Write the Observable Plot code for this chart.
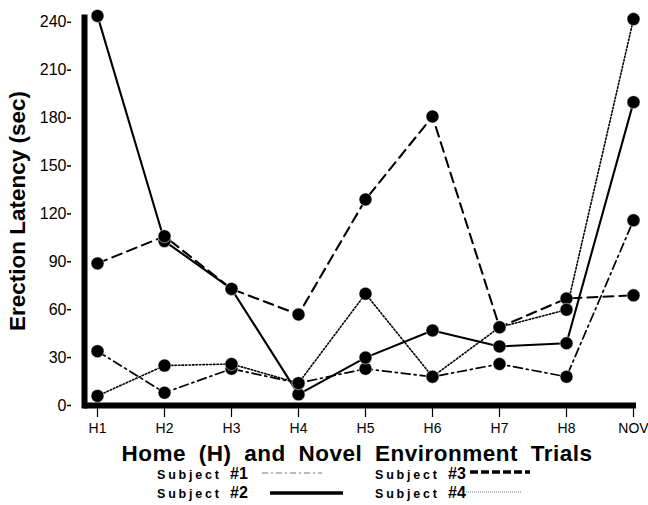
<!DOCTYPE html>
<html>
<head>
<meta charset="utf-8">
<script src="https://cdn.jsdelivr.net/npm/d3@7"></script>
<script src="https://cdn.jsdelivr.net/npm/@observablehq/plot@0.6"></script>
<style>
  body { margin: 0; background: #fff; }
  #wrap { position: relative; width: 648px; height: 505px; font-family: "Liberation Sans", Arial, Helvetica, sans-serif; color: #000; }
  #wrap svg.plot { position: absolute; left: 0; top: 0; }
  .ttl { position: absolute; white-space: nowrap; font-weight: bold; font-size: 22.5px; line-height: 20px; }
  .leg { position: absolute; white-space: nowrap; font-weight: bold; font-size: 12.5px; letter-spacing: 2.8px; line-height: 14px; }
  .leg b { font-size: 16px; letter-spacing: 0; margin-left: 2px; line-height: 14px; }
  .sample { position: absolute; }
  .yax text { font-family: "Liberation Sans Narrow", "Liberation Sans", Arial, sans-serif; }
</style>
</head>
<body>
<div id="wrap"></div>
<script>
const trials = ["H1", "H2", "H3", "H4", "H5", "H6", "H7", "H8", "NOV"];
const subject1 = [34, 8, 23, 14, 23, 18, 26, 18, 116];
const subject2 = [244, 103, 73, 7, 30, 47, 37, 39, 190];
const subject3 = [89, 106, 73, 57, 129, 181, 49, 67, 69];
const subject4 = [6, 25, 26, 14, 70, 18, 49, 60, 242];
const yTicks = [0, 30, 60, 90, 120, 150, 180, 210, 240];
const subjects = ["Subject #1", "Subject #2", "Subject #3", "Subject #4"];
const series = [subject1, subject2, subject3, subject4];
const yLabel = "Erection Latency (sec)";
const xLabel = "Home (H) and Novel Environment Trials";

const data = series.flatMap((vals, i) => vals.map((v, j) => ({subject: subjects[i], trial: trials[j], value: v})));
const styles = {
  "Subject #1": {strokeWidth: 1.7, strokeDasharray: "9,4,2,4"},
  "Subject #2": {strokeWidth: 2.1},
  "Subject #3": {strokeWidth: 2.1, strokeDasharray: "10,6"},
  "Subject #4": {strokeWidth: 1.6, strokeDasharray: "1.5,2"}
};

const chart = Plot.plot({
  width: 648,
  height: 505,
  marginLeft: 84,
  marginRight: 12,
  marginTop: 17,
  marginBottom: 100,
  style: {fontFamily: '"Liberation Sans", Arial, Helvetica, sans-serif', fontSize: "14px", color: "#000", background: "#fff"},
  x: {type: "point", domain: trials, insetLeft: 11, insetRight: 2, padding: 0},
  y: {domain: [0, 243]},
  marks: [
    ...subjects.map(s => Plot.line(data.filter(d => d.subject === s), {x: "trial", y: "value", stroke: "#000", ...styles[s]})),
    Plot.dot(data, {x: "trial", y: "value", r: 6.5, fill: "#000", stroke: "#fff", strokeWidth: 0.5}),
    Plot.ruleY([0], {strokeWidth: 6, stroke: "#000"}),
    Plot.frame({anchor: "left", strokeWidth: 6, stroke: "#000"}),
    Plot.axisY({ticks: yTicks, tickSize: 4, tickPadding: 1, dx: -13, label: null, strokeWidth: 1.5, fontSize: 16, className: "yax"}),
    Plot.axisX({tickSize: 12, tickPadding: 6, label: null, strokeWidth: 1.2, fontSize: 14})
  ]
});
chart.classList.add("plot");
const wrap = document.getElementById("wrap");
wrap.appendChild(chart);

function addDiv(cls, text, css) {
  const d = document.createElement("div");
  d.className = cls;
  d.textContent = text;
  Object.assign(d.style, css);
  wrap.appendChild(d);
  return d;
}
addDiv("ttl", yLabel, {left: "18px", top: "211px", transform: "translate(-50%,-50%) rotate(-90deg)"});
addDiv("ttl", xLabel, {left: "357px", top: "454px", transform: "translate(-50%,-50%)", wordSpacing: "6px", letterSpacing: "0.5px"});

const legendPos = [
  {left: 157, top: 467, x1: 262, x2: 322, y: 473, sw: 1, dash: "6,3,2,3", col: "#777"},
  {left: 157, top: 486, x1: 270, x2: 343, y: 493, sw: 3.5, dash: null, col: "#000"},
  {left: 375, top: 467, x1: 470, x2: 530, y: 472, sw: 3.5, dash: "8,3", col: "#000"},
  {left: 375, top: 486, x1: 466, x2: 522, y: 492, sw: 1, dash: "1,1", col: "#777"}
];
subjects.forEach((s, i) => {
  const p = legendPos[i];
  const d = document.createElement("div");
  d.className = "leg";
  d.style.left = p.left + "px";
  d.style.top = p.top + "px";
  const parts = s.split(" ");
  d.innerHTML = parts[0] + " <b>" + parts[1] + "</b>";
  wrap.appendChild(d);
  const svg = d3.select(wrap).append("svg").attr("class", "sample")
    .style("left", "0px").style("top", "0px").attr("width", 648).attr("height", 505)
    .style("pointer-events", "none");
  svg.append("line").attr("x1", p.x1).attr("x2", p.x2).attr("y1", p.y).attr("y2", p.y)
    .attr("stroke", p.col).attr("stroke-width", p.sw).attr("stroke-dasharray", p.dash);
});
</script>
</body>
</html>
